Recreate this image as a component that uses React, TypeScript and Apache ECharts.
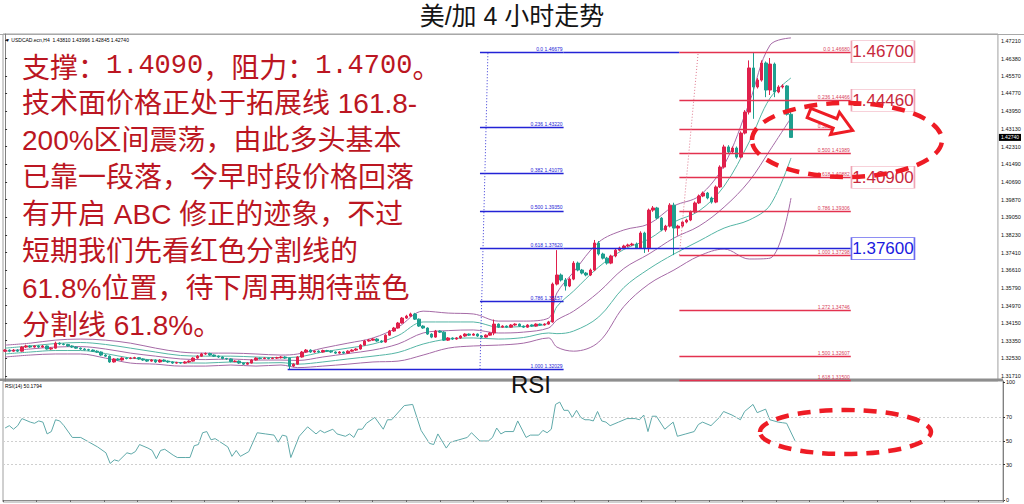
import React, { useEffect, useRef } from "react";
import * as echarts from "echarts";

// ---------- DATA ----------
const opens = [
  1.3286,1.3291,1.3286,1.3291,1.3286,1.3305,1.3310,1.3305,1.3310,1.3305,
  1.3310,1.3296,1.3300,1.3323,1.3319,1.3317,1.3310,1.3305,1.3300,1.3296,
  1.3293,1.3291,1.3286,1.3282,1.3268,1.3263,1.3236,1.3250,1.3245,1.3254,
  1.3252,1.3254,1.3256,1.3250,1.3245,1.3240,1.3245,1.3236,1.3245,1.3240,
  1.3236,1.3231,1.3233,1.3231,1.3236,1.3240,1.3254,1.3263,1.3273,1.3275,
  1.3268,1.3263,1.3259,1.3252,1.3250,1.3238,1.3240,1.3231,1.3226,1.3231,
  1.3245,1.3254,1.3252,1.3254,1.3252,1.3254,1.3256,1.3259,1.3254,1.3217,
  1.3226,1.3259,1.3282,1.3291,1.3282,1.3286,1.3282,1.3289,1.3286,1.3282,
  1.3277,1.3282,1.3277,1.3286,1.3291,1.3296,1.3314,1.3333,1.3337,1.3342,
  1.3333,1.3328,1.3360,1.3379,1.3393,1.3416,1.3439,1.3448,1.3458,1.3434,
  1.3402,1.3393,1.3365,1.3351,1.3379,1.3374,1.3337,1.3347,1.3342,1.3347,
  1.3356,1.3365,1.3360,1.3365,1.3356,1.3351,1.3360,1.3370,1.3411,1.3397,
  1.3402,1.3397,1.3407,1.3411,1.3402,1.3397,1.3407,1.3402,1.3411,1.3407,
  1.3411,1.3421,1.3596,1.3638,1.3615,1.3587,1.3619,1.3693,1.3661,1.3647,
  1.3638,1.3661,1.3786,1.3735,1.3716,1.3693,1.3726,1.3753,1.3763,1.3772,
  1.3777,1.3781,1.3763,1.3832,1.3763,1.3938,1.3948,1.3901,1.3846,1.3864,
  1.3961,1.3855,1.3864,1.3883,1.3892,1.3929,1.3971,1.4003,1.4017,1.3994,
  1.3975,1.4045,1.4137,1.4230,1.4207,1.4225,1.4183,1.4294,1.4391,1.4595,
  1.4507,1.4539,1.4618,1.4493,1.4613,1.4484,1.4507,1.4512,1.4381
];
const closes = [
  1.3291,1.3286,1.3291,1.3286,1.3305,1.3310,1.3305,1.3310,1.3305,1.3310,
  1.3296,1.3300,1.3323,1.3319,1.3317,1.3310,1.3305,1.3300,1.3296,1.3293,
  1.3291,1.3286,1.3282,1.3268,1.3263,1.3236,1.3250,1.3245,1.3254,1.3252,
  1.3254,1.3256,1.3250,1.3245,1.3240,1.3245,1.3236,1.3245,1.3240,1.3236,
  1.3231,1.3233,1.3231,1.3236,1.3240,1.3254,1.3263,1.3273,1.3275,1.3268,
  1.3263,1.3259,1.3252,1.3250,1.3238,1.3240,1.3231,1.3226,1.3231,1.3245,
  1.3254,1.3252,1.3254,1.3252,1.3254,1.3256,1.3259,1.3254,1.3217,1.3226,
  1.3259,1.3282,1.3291,1.3282,1.3286,1.3282,1.3289,1.3286,1.3282,1.3277,
  1.3282,1.3277,1.3286,1.3291,1.3296,1.3314,1.3333,1.3337,1.3342,1.3333,
  1.3328,1.3360,1.3379,1.3393,1.3416,1.3439,1.3448,1.3458,1.3434,1.3402,
  1.3393,1.3365,1.3351,1.3379,1.3374,1.3337,1.3347,1.3342,1.3347,1.3356,
  1.3365,1.3360,1.3365,1.3356,1.3351,1.3360,1.3370,1.3411,1.3397,1.3402,
  1.3397,1.3407,1.3411,1.3402,1.3397,1.3407,1.3402,1.3411,1.3407,1.3411,
  1.3421,1.3596,1.3638,1.3615,1.3587,1.3619,1.3693,1.3661,1.3647,1.3638,
  1.3661,1.3786,1.3735,1.3716,1.3693,1.3726,1.3753,1.3763,1.3772,1.3777,
  1.3781,1.3763,1.3832,1.3763,1.3938,1.3948,1.3901,1.3846,1.3864,1.3961,
  1.3855,1.3864,1.3883,1.3892,1.3929,1.3971,1.4003,1.4017,1.3994,1.3975,
  1.4045,1.4137,1.4230,1.4207,1.4225,1.4183,1.4294,1.4391,1.4595,1.4507,
  1.4539,1.4618,1.4493,1.4613,1.4484,1.4507,1.4512,1.4381,1.4274
];
const lows = [
  1.3282,1.3281,1.3283,1.3282,1.3284,1.3301,1.3301,1.3302,1.3300,1.3302,
  1.3293,1.3292,1.3298,1.3314,1.3313,1.3306,1.3301,1.3297,1.3292,1.3289,
  1.3287,1.3282,1.3278,1.3264,1.3259,1.3232,1.3233,1.3241,1.3242,1.3248,
  1.3249,1.3250,1.3246,1.3241,1.3236,1.3237,1.3232,1.3233,1.3236,1.3232,
  1.3227,1.3228,1.3227,1.3228,1.3232,1.3238,1.3251,1.3260,1.3269,1.3264,
  1.3259,1.3255,1.3248,1.3246,1.3234,1.3235,1.3227,1.3222,1.3223,1.3229,
  1.3242,1.3248,1.3249,1.3248,1.3249,1.3250,1.3252,1.3250,1.3203,1.3212,
  1.3223,1.3256,1.3278,1.3278,1.3278,1.3278,1.3279,1.3282,1.3278,1.3273,
  1.3274,1.3273,1.3274,1.3283,1.3287,1.3293,1.3311,1.3330,1.3334,1.3329,
  1.3324,1.3325,1.3357,1.3375,1.3390,1.3413,1.3435,1.3444,1.3430,1.3398,
  1.3389,1.3361,1.3346,1.3348,1.3370,1.3333,1.3333,1.3338,1.3339,1.3343,
  1.3352,1.3356,1.3357,1.3352,1.3347,1.3348,1.3357,1.3360,1.3393,1.3394,
  1.3393,1.3394,1.3403,1.3398,1.3393,1.3394,1.3398,1.3399,1.3403,1.3404,
  1.3408,1.3418,1.3590,1.3608,1.3566,1.3582,1.3614,1.3655,1.3641,1.3632,
  1.3633,1.3656,1.3728,1.3710,1.3686,1.3688,1.3720,1.3748,1.3758,1.3767,
  1.3772,1.3758,1.3758,1.3740,1.3745,1.3930,1.3895,1.3840,1.3838,1.3858,
  1.3730,1.3820,1.3858,1.3877,1.3887,1.3924,1.3966,1.3998,1.3988,1.3968,
  1.3970,1.4040,1.4130,1.4200,1.4200,1.4176,1.4178,1.4288,1.4380,1.4360,
  1.4500,1.4532,1.4460,1.4470,1.4460,1.4478,1.4500,1.4375,1.4274
];
const highs = [
  1.3295,1.3294,1.3296,1.3295,1.3309,1.3316,1.3314,1.3313,1.3314,1.3315,
  1.3312,1.3304,1.3330,1.3327,1.3323,1.3320,1.3313,1.3309,1.3303,1.3300,
  1.3297,1.3294,1.3290,1.3285,1.3272,1.3266,1.3254,1.3254,1.3258,1.3257,
  1.3258,1.3260,1.3259,1.3253,1.3248,1.3249,1.3248,1.3249,1.3248,1.3243,
  1.3239,1.3237,1.3236,1.3240,1.3244,1.3258,1.3268,1.3278,1.3280,1.3279,
  1.3271,1.3266,1.3262,1.3255,1.3253,1.3244,1.3243,1.3234,1.3235,1.3249,
  1.3258,1.3257,1.3258,1.3257,1.3258,1.3260,1.3263,1.3262,1.3257,1.3230,
  1.3263,1.3287,1.3296,1.3295,1.3290,1.3290,1.3293,1.3292,1.3290,1.3285,
  1.3286,1.3285,1.3290,1.3295,1.3300,1.3318,1.3338,1.3342,1.3347,1.3346,
  1.3337,1.3364,1.3384,1.3398,1.3421,1.3444,1.3454,1.3464,1.3463,1.3437,
  1.3406,1.3396,1.3369,1.3384,1.3383,1.3378,1.3351,1.3350,1.3351,1.3360,
  1.3369,1.3368,1.3369,1.3368,1.3359,1.3364,1.3374,1.3432,1.3414,1.3406,
  1.3405,1.3411,1.3415,1.3414,1.3405,1.3411,1.3410,1.3415,1.3414,1.3415,
  1.3426,1.3603,1.3753,1.3645,1.3624,1.3627,1.3702,1.3700,1.3666,1.3652,
  1.3668,1.3800,1.3795,1.3741,1.3722,1.3732,1.3759,1.3769,1.3778,1.3783,
  1.3787,1.3788,1.3840,1.3838,1.3945,1.3957,1.3953,1.3906,1.3870,1.3970,
  1.3972,1.3870,1.3889,1.3898,1.3936,1.3978,1.4010,1.4024,1.4022,1.4000,
  1.4052,1.4145,1.4240,1.4238,1.4232,1.4232,1.4302,1.4400,1.4630,1.4668,
  1.4548,1.4630,1.4625,1.4641,1.4620,1.4515,1.4520,1.4516,1.4400
];

const bandIndex = [0,6,12,18,24,30,36,42,48,54,60,66,70,76,82,88,94,100,106,112,118,124,130,132,136,142,148,154,160,166,172,178,183,188];
const bandUpper2 = [1.3314,1.3323,1.3337,1.3342,1.3337,1.3323,1.3300,1.3282,1.3277,1.3277,1.3273,1.3268,1.3273,1.3300,1.3323,1.3347,1.3397,1.3471,1.3462,1.3458,1.3425,1.3425,1.3439,1.3555,1.3652,1.3790,1.3846,1.3874,1.3957,1.4003,1.4146,1.4433,1.4701,1.4734];
const bandUpper1 = [1.3300,1.3310,1.3321,1.3326,1.3317,1.3300,1.3282,1.3266,1.3263,1.3263,1.3259,1.3256,1.3259,1.3282,1.3300,1.3319,1.3358,1.3421,1.3421,1.3421,1.3397,1.3400,1.3416,1.3492,1.3564,1.3675,1.3756,1.3804,1.3883,1.3934,1.4049,1.4253,1.4456,1.4549];
const bandMid = [1.3286,1.3296,1.3305,1.3307,1.3296,1.3277,1.3263,1.3250,1.3247,1.3250,1.3245,1.3245,1.3243,1.3259,1.3275,1.3291,1.3319,1.3370,1.3381,1.3384,1.3370,1.3374,1.3393,1.3430,1.3471,1.3559,1.3668,1.3735,1.3809,1.3864,1.3952,1.4072,1.4216,1.4364];
const bandLower1 = [1.3273,1.3282,1.3289,1.3289,1.3275,1.3254,1.3245,1.3233,1.3231,1.3236,1.3231,1.3233,1.3226,1.3236,1.3250,1.3263,1.3280,1.3319,1.3342,1.3347,1.3342,1.3349,1.3370,1.3367,1.3379,1.3444,1.3580,1.3666,1.3735,1.3795,1.3855,1.3892,1.3961,1.4179];
const bandLower2 = [1.3259,1.3268,1.3273,1.3273,1.3254,1.3231,1.3226,1.3217,1.3217,1.3222,1.3217,1.3222,1.3210,1.3217,1.3226,1.3236,1.3240,1.3268,1.3300,1.3310,1.3314,1.3323,1.3347,1.3305,1.3286,1.3328,1.3492,1.3596,1.3661,1.3726,1.3758,1.3712,1.3716,1.3994];

// RSI(14)
const rsiIndex = [0,1,2,3,4,6,7,8,9,10,11,12,13,14,16,18,20,22,24,25,26,27,29,30,31,32,34,35,36,37,38,40,41,43,44,45,46,47,48,49,50,53,54,55,56,58,60,62,64,65,66,67,68,70,72,74,75,76,78,79,81,82,83,84,85,86,88,90,91,92,93,95,97,99,101,102,103,105,106,108,110,111,113,115,116,117,118,119,121,122,124,125,127,128,129,130,131,132,133,134,135,136,137,138,139,140,141,142,143,144,146,148,150,151,152,153,154,155,157,158,159,160,162,164,165,166,168,170,171,173,175,176,178,179,181,182,184,185,186,188];
const rsiValues = [61,63,60,63,69,66,65,67,66,56,58,68,67,63,53,53,49,45,40,31,34,33,40,39,41,47,44,42,35,42,43,38,36,36,36,46,47,57,58,51,52,45,37,42,37,41,57,56,55,49,55,54,36,54,62,56,59,57,60,56,54,56,53,60,60,65,70,60,68,68,72,80,81,59,48,47,56,44,49,51,53,57,50,50,53,61,56,58,58,67,53,55,55,59,57,60,81,83,76,76,70,76,70,68,68,67,75,67,66,63,66,69,69,68,72,58,71,71,60,63,66,54,56,58,64,66,63,70,75,72,68,75,81,74,77,68,66,65.5,65,50.18];

const priceTicks = [1.4721,1.4638,1.4557,1.4477,1.4395,1.4313,1.4231,1.4149,1.4069,1.3987,1.3905,1.3823,1.3741,1.3661,1.3579,1.3497,1.3415,1.3335,1.3253,1.3171];
const rsiTicks = [0, 30, 50, 70, 100];
const rsiLevels = [70, 50, 30];

const blueFibLevels = [0, 0.236, 0.382, 0.5, 0.618, 0.786, 1];
const blueFibPrices = [1.46679, 1.4322, 1.41079, 1.3935, 1.3762, 1.35157, 1.32029];
const redFibLevels = [0, 0.236, 0.382, 0.5, 0.618, 0.786, 1, 1.272, 1.5, 1.618];
const redFibPrices = [1.4668, 1.44466, 1.43096, 1.41989, 1.40882, 1.39306, 1.37298, 1.34746, 1.32607, 1.315];
// bar positions (in bar units) of the two Fibonacci objects
const blueFibBars = [113.6, 133.6, 115.5];
const redFibBars = [161.3, 202.3, 165.8];
const blueFibLowStartBar = 67.6;

const keyLevels = [1.467, 1.4446, 1.409, 1.376];
const keyLevelText = ["1.46700", "1.44460", "1.40900", "1.37600"];
const keyLevelBar = 210;
const lastPrice = 1.4274;

const textLines = [
  "技术面价格正处于拓展线 161.8-",
  "200%区间震荡，由此多头基本",
  "已靠一段落，今早时段价格回落",
  "有开启 ABC 修正的迹象，不过",
  "短期我们先看红色分割线的",
  "61.8%位置，待下周再期待蓝色",
  "分割线 61.8%。",
];

const TOTAL_SLOTS = 238;
const RED = "#e0204c";
const TEAL = "#1f9f8f";
const PURPLE = "#a56aa6";
const BAND_TEAL = "#55b5a5";
const TXT_RED = "#bb1622";
const FIB_BLUE = "#2323d6";
const FIB_RED = "#e3324f";
const MARK_RED = "#ee1c25";
const CJK = '"Noto Sans CJK SC", sans-serif';
const LAT = '"Liberation Sans", "Noto Sans CJK SC", sans-serif';

export default function App() {
  const ref = useRef<HTMLDivElement>(null);
  useEffect(() => {
    if (!ref.current) return;
    const chart = echarts.init(ref.current, null, { renderer: "svg" });
    const cats = Array.from({ length: TOTAL_SLOTS }, (_, i) => String(i));
    const candleData = closes.map((c, i) => [opens[i], c, lows[i], highs[i]]);
    const band = (vals: number[]) => bandIndex.map((ix, k) => [ix, vals[k]]);
    const rsiData = rsiIndex.map((ix, k) => [ix, rsiValues[k]]);
    const fmtLevel = (l: number) => (l === 0 ? "0.0" : l.toFixed(3));

    const seg = (x1: number, x2: number, p: number, color: string, text: string | null, labelColor: string) => [
      {
        coord: [x1, p],
        lineStyle: { color, width: 1.4, type: "solid" },
        label: text
          ? { show: true, position: "insideEndTop", formatter: text, fontSize: 5, color: labelColor, fontFamily: "Liberation Sans", distance: 1 }
          : { show: false },
      },
      { coord: [x2, p] },
    ];

    const fibLines: any[] = [];
    blueFibLevels.forEach((l, k) => {
      fibLines.push(seg(blueFibBars[0], blueFibBars[1], blueFibPrices[k], FIB_BLUE, `${fmtLevel(l)} ${blueFibPrices[k].toFixed(5)}`, FIB_BLUE));
    });
    fibLines.push(seg(blueFibBars[1], redFibBars[0], blueFibPrices[0], FIB_BLUE, null, FIB_BLUE));
    fibLines.push(seg(blueFibBars[1], redFibBars[1], blueFibPrices[4], FIB_BLUE, null, FIB_BLUE));
    fibLines.push(seg(blueFibLowStartBar, blueFibBars[0], blueFibPrices[6], FIB_BLUE, null, FIB_BLUE));
    redFibLevels.forEach((l, k) => {
      fibLines.push(seg(redFibBars[0], redFibBars[1], redFibPrices[k], FIB_RED, `${fmtLevel(l)} ${redFibPrices[k].toFixed(5)}`, "#d8405a"));
    });
    fibLines.push([
      { coord: [blueFibBars[0], blueFibPrices[6]], lineStyle: { color: "#3a3ad8", width: 1, type: [1, 2] }, label: { show: false } },
      { coord: [blueFibBars[2], blueFibPrices[0]] },
    ]);
    fibLines.push([
      { coord: [redFibBars[0], redFibPrices[6]], lineStyle: { color: "#e07a90", width: 1, type: [1, 2] }, label: { show: false } },
      { coord: [redFibBars[2], redFibPrices[0]] },
    ]);

    const keyPoints = keyLevels.map((p, k) => {
      const blue = k === 3;
      return {
        coord: [keyLevelBar, p],
        symbol: "rect",
        symbolSize: [63, 22],
        itemStyle: { color: "#ffffff", borderColor: blue ? "#6a6af0" : "#f0a4b4", borderWidth: 1 },
        label: {
          show: true,
          position: "inside",
          formatter: keyLevelText[k],
          fontSize: 17,
          fontFamily: "Liberation Sans",
          color: blue ? "#1a1ae0" : "#c8283c",
        },
      };
    });

    const bandLine = (vals: number[], color: string) => ({
      type: "line",
      xAxisIndex: 0,
      yAxisIndex: 0,
      data: band(vals),
      symbol: "none",
      smooth: 0.35,
      silent: true,
      lineStyle: { color, width: 1 },
      z: 1,
    });

    const graphics: any[] = [
      { type: "text", x: 512, y: 16, style: { text: "美/加 4 小时走势", fontSize: 25, fontFamily: LAT, fill: "#151515", align: "center", verticalAlign: "middle" } },
      { type: "line", shape: { x1: 0, y1: 34.5, x2: 1024, y2: 34.5 }, style: { stroke: "#a8a8a8", lineWidth: 1 } },
      { type: "rect", z: 0, shape: { x: 0, y: 378.5, width: 1003, height: 2.5 }, style: { fill: "#8e8e8e" } },
      { type: "text", x: 5, y: 40, style: { text: "▼ USDCAD.ecn,H4  1.43810 1.43996 1.42845 1.42740", fontSize: 5, fontFamily: "Liberation Sans", fill: "#000", verticalAlign: "middle" } },
      { type: "text", x: 5, y: 386, style: { text: "RSI(14) 50.1794", fontSize: 5, fontFamily: "Liberation Sans", fill: "#000", verticalAlign: "middle" } },
      { type: "text", x: 511, y: 384, z: 50, style: { text: "RSI", fontSize: 24, fontFamily: "Liberation Sans", fill: "#111", verticalAlign: "middle" } },
      {
        type: "text",
        x: 22,
        y: 66,
        z: 50,
        style: {
          text: "{c|支撑：}{n|1.4090}{c|，阻力：}{n|1.4700}{c|。}",
          verticalAlign: "middle",
          rich: {
            c: { fontSize: 28, fontFamily: CJK, fill: TXT_RED },
            n: { fontSize: 27, fontFamily: '"Liberation Mono", monospace', fill: TXT_RED },
          },
        },
      },
      ...textLines.map((t, k) => ({
        type: "text",
        x: 22,
        y: 103 + k * 37,
        z: 50,
        style: { text: t, fontSize: 28, fontFamily: LAT, fill: TXT_RED, verticalAlign: "middle" },
      })),
      { type: "ellipse", z: 60, shape: { cx: 847, cy: 140, rx: 95, ry: 37 }, style: { fill: "none", stroke: MARK_RED, lineWidth: 4.5, lineDash: [13, 9] } },
      { type: "ellipse", z: 60, shape: { cx: 845.5, cy: 432, rx: 85.5, ry: 22 }, style: { fill: "none", stroke: MARK_RED, lineWidth: 4.5, lineDash: [13, 9] } },
      {
        type: "polygon",
        z: 60,
        x: 809,
        y: 113,
        rotation: -0.38,
        shape: { points: [[0, -5], [28, -5], [28, -12], [47, 0], [28, 12], [28, 5], [0, 5]] },
        style: { fill: "#ffffff", stroke: MARK_RED, lineWidth: 3 },
      },
    ];

    chart.setOption({
      animation: false,
      backgroundColor: "#ffffff",
      grid: [
        { left: 3, top: 34, right: 21, height: 347, show: true, borderColor: "#a0a0a0", borderWidth: 1 },
        { left: 3, top: 381, right: 21, height: 121, show: true, borderColor: "#a0a0a0", borderWidth: 1 },
      ],
      xAxis: [
        { type: "category", gridIndex: 0, data: cats, boundaryGap: true, axisLine: { show: false }, axisTick: { show: false }, axisLabel: { show: false }, splitLine: { show: false } },
        { type: "category", gridIndex: 1, data: cats, boundaryGap: true, axisLine: { show: true, lineStyle: { color: "#8a8a8a" } }, axisTick: { show: true, interval: 7, length: 2, lineStyle: { color: "#666" } }, axisLabel: { show: false }, splitLine: { show: false } },
        { type: "value", gridIndex: 0, min: -0.5, max: TOTAL_SLOTS - 0.5, show: false },
      ],
      yAxis: [
        {
          type: "value", gridIndex: 0, position: "right", min: 1.31481, max: 1.4752,
          splitLine: { show: false },
          axisLine: { show: true, lineStyle: { color: "#808080" } },
          axisTick: { show: true, customValues: priceTicks, length: 2, lineStyle: { color: "#333" } },
          axisLabel: { customValues: priceTicks, formatter: (v: number) => v.toFixed(5), fontSize: 5.5, color: "#111", margin: 3, fontFamily: "Liberation Sans" },
        },
        {
          type: "value", gridIndex: 1, position: "right", min: -1.69, max: 100.85,
          splitLine: { show: false },
          axisLine: { show: true, lineStyle: { color: "#808080" } },
          axisTick: { show: true, customValues: rsiTicks, length: 2, lineStyle: { color: "#333" } },
          axisLabel: { customValues: rsiTicks, fontSize: 5.5, color: "#111", margin: 3, fontFamily: "Liberation Sans" },
        },
        {
          type: "value", gridIndex: 0, position: "right", min: 1.31481, max: 1.4752,
          splitLine: { show: false },
          axisLine: { show: false },
          axisTick: { show: false },
          axisLabel: {
            customValues: [lastPrice],
            formatter: (v: number) => v.toFixed(5),
            fontSize: 5,
            color: "#fff",
            backgroundColor: "#000",
            padding: [1, 2, 1, 2],
            margin: 1,
            fontFamily: "Liberation Sans",
          },
        },
      ],
      series: [
        bandLine(bandUpper2, PURPLE),
        bandLine(bandUpper1, BAND_TEAL),
        bandLine(bandMid, PURPLE),
        bandLine(bandLower1, BAND_TEAL),
        bandLine(bandLower2, PURPLE),
        {
          type: "candlestick",
          xAxisIndex: 0,
          yAxisIndex: 0,
          data: candleData,
          barWidth: 3,
          z: 3,
          itemStyle: { color: RED, color0: TEAL, borderColor: RED, borderColor0: TEAL, borderWidth: 1 },
        },
        {
          type: "line",
          xAxisIndex: 2,
          yAxisIndex: 0,
          data: [],
          symbol: "none",
          z: 5,
          markLine: { silent: true, symbol: ["none", "none"], animation: false, data: fibLines },
          markPoint: { silent: true, animation: false, data: keyPoints },
        },
        {
          type: "line",
          xAxisIndex: 1,
          yAxisIndex: 1,
          data: rsiData,
          symbol: "none",
          lineStyle: { color: "#5fa9a9", width: 1 },
          markLine: {
            silent: true,
            symbol: ["none", "none"],
            label: { show: false },
            lineStyle: { color: "#cfcfcf", width: 1, type: [2, 2] },
            data: rsiLevels.map((v) => ({ yAxis: v })),
          },
        },
      ],
      graphic: graphics,
    });
    return () => chart.dispose();
  }, []);
  return <div ref={ref} style={{ position: "absolute", left: 0, top: 0, width: 1024, height: 504, background: "#fff" }} />;
}
